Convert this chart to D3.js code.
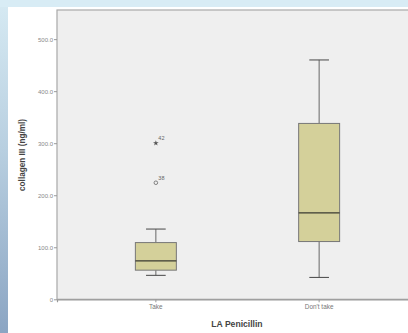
<!DOCTYPE html>
<html>
<head>
<meta charset="utf-8">
<script src="https://cdn.jsdelivr.net/npm/d3@7"></script>
<style>
  html, body { margin: 0; padding: 0; overflow: hidden; }
  body { width: 408px; height: 333px; }
  svg { display: block; }
</style>
</head>
<body>
<svg id="chart" width="408" height="333"></svg>
<script>
// Groups on the x axis
const categories = ["Take", "Don't take"];
// Box-plot summaries of collagen III (ng/ml) for each group
const whiskerLow  = [46, 42];
const q1Values    = [56, 111];
const medians     = [74, 166];
const q3Values    = [109, 338];
const whiskerHigh = [135, 460];
// Outlying cases: group, value, case label, marker kind
const outlierGroups = ["Take", "Take"];
const outlierValues = [300, 224];
const outlierLabels = ["42", "38"];
const outlierKinds  = ["extreme", "outlier"];
// Y axis ticks
const yTicks = [0, 100, 200, 300, 400, 500];
const yTickLabels = ["0", "100.0", "200.0", "300.0", "400.0", "500.0"];

const svg = d3.select("#chart");
const W = 408, H = 333;
const FONT = "Arial, 'Liberation Sans', sans-serif";

// Backdrop: light blue frame with a gradient down the left side
const defs = svg.append("defs");
const grad = defs.append("linearGradient").attr("id", "sideGrad")
  .attr("x1", 0).attr("y1", 0).attr("x2", 0).attr("y2", 1);
grad.append("stop").attr("offset", "0%").attr("stop-color", "#d6eaf3");
grad.append("stop").attr("offset", "45%").attr("stop-color", "#b8cfe0");
grad.append("stop").attr("offset", "100%").attr("stop-color", "#8ba5c3");

svg.append("rect").attr("x", 0).attr("y", 0).attr("width", W).attr("height", H).attr("fill", "url(#sideGrad)");
svg.append("rect").attr("x", 0).attr("y", 0).attr("width", W).attr("height", 7).attr("fill", "#d8ecf5");
svg.append("rect").attr("x", 8).attr("y", 7).attr("width", W - 8).attr("height", H - 7).attr("fill", "#ffffff");

// Plot region
const plot = { left: 57, top: 10, right: 418, bottom: 299.3 };

const y = d3.scaleLinear().domain([0, 556]).range([plot.bottom, plot.top]);
const x = d3.scaleBand().domain(categories)
  .range([plot.left, plot.right]).paddingInner(0.749).paddingOuter(0.48);

svg.append("rect")
  .attr("x", plot.left).attr("y", plot.top)
  .attr("width", plot.right - plot.left).attr("height", plot.bottom - plot.top)
  .attr("fill", "#efefef").attr("stroke", "#a8a8a8").attr("stroke-width", 1.2);

// Y axis
const yAxis = d3.axisLeft(y).tickValues(yTicks)
  .tickFormat((d, i) => yTickLabels[i]).tickSize(3).tickPadding(1);
const gy = svg.append("g").attr("transform", `translate(${plot.left},0)`).call(yAxis);
gy.select(".domain").remove();
gy.selectAll(".tick line").attr("stroke", "#999");
gy.selectAll(".tick text").attr("fill", "#888")
  .style("font-family", FONT).style("font-size", "6px");

// X axis
const xAxis = d3.axisBottom(x).tickSize(3).tickPadding(2);
const gx = svg.append("g").attr("transform", `translate(0,${plot.bottom})`).call(xAxis);
gx.select(".domain").attr("stroke", "#999").attr("stroke-width", 1.2);
gx.selectAll(".tick line").attr("stroke", "#999");
gx.selectAll(".tick text").attr("fill", "#777")
  .style("font-family", FONT).style("font-size", "6.4px");

// Axis titles
svg.append("text")
  .attr("x", 237).attr("y", 327)
  .attr("text-anchor", "middle")
  .style("font-family", FONT)
  .style("font-size", "8.6px").style("font-weight", "bold").attr("fill", "#444")
  .text("LA Penicillin");

svg.append("text")
  .attr("transform", "translate(24.5,155) rotate(-90)")
  .attr("text-anchor", "middle")
  .style("font-family", FONT)
  .style("font-size", "8.2px").style("font-weight", "bold").attr("fill", "#444")
  .text("collagen III (ng/ml)");

// Boxes
const boxes = categories.map((c, i) => ({
  c, lo: whiskerLow[i], q1: q1Values[i], med: medians[i], q3: q3Values[i], hi: whiskerHigh[i]
}));
const capW = x.bandwidth() * 0.48;

const g = svg.append("g");
boxes.forEach(b => {
  const cx = x(b.c) + x.bandwidth() / 2;
  const bg = g.append("g");
  // whisker stems
  bg.append("line").attr("x1", cx).attr("x2", cx).attr("y1", y(b.hi)).attr("y2", y(b.q3))
    .attr("stroke", "#666").attr("stroke-width", 1);
  bg.append("line").attr("x1", cx).attr("x2", cx).attr("y1", y(b.q1)).attr("y2", y(b.lo))
    .attr("stroke", "#666").attr("stroke-width", 1);
  // caps
  [b.hi, b.lo].forEach(v => {
    bg.append("line").attr("x1", cx - capW / 2).attr("x2", cx + capW / 2)
      .attr("y1", y(v)).attr("y2", y(v)).attr("stroke", "#555").attr("stroke-width", 1.1);
  });
  // box
  bg.append("rect").attr("x", x(b.c)).attr("y", y(b.q3))
    .attr("width", x.bandwidth()).attr("height", y(b.q1) - y(b.q3))
    .attr("fill", "#d4d09a").attr("stroke", "#777").attr("stroke-width", 1);
  // median
  bg.append("line").attr("x1", x(b.c)).attr("x2", x(b.c) + x.bandwidth())
    .attr("y1", y(b.med)).attr("y2", y(b.med)).attr("stroke", "#3a3a30").attr("stroke-width", 1.3);
});

// Outliers
outlierValues.forEach((v, i) => {
  const cx = x(outlierGroups[i]) + x.bandwidth() / 2;
  const cy = y(v);
  if (outlierKinds[i] === "extreme") {
    g.append("path").attr("d", d3.symbol(d3.symbolStar, 10)())
      .attr("transform", `translate(${cx},${cy})`).attr("fill", "#555");
  } else {
    g.append("circle").attr("cx", cx).attr("cy", cy).attr("r", 1.8)
      .attr("fill", "none").attr("stroke", "#666").attr("stroke-width", 0.8);
  }
  g.append("text").attr("x", cx + 2.5).attr("y", cy - 3)
    .style("font-family", FONT).style("font-size", "5.5px")
    .attr("fill", "#666").text(outlierLabels[i]);
});
</script>
</body>
</html>
